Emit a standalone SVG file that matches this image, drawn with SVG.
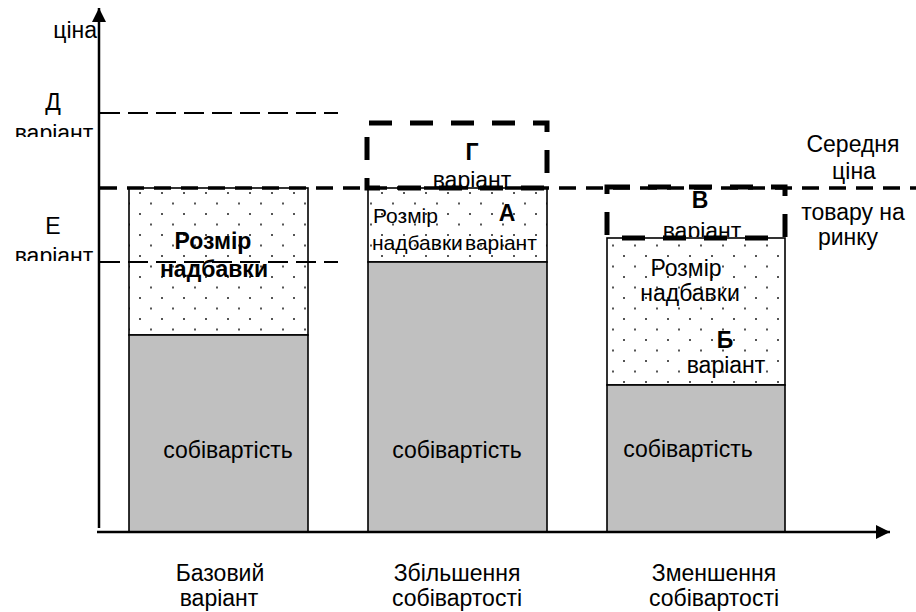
<svg xmlns="http://www.w3.org/2000/svg" width="916" height="612" viewBox="0 0 916 612">
<style>
text{font-family:"Liberation Sans",Arial,sans-serif;font-size:23px;fill:#000}
.c{text-anchor:middle}
.b{font-weight:bold}
.s{font-size:21px}
.bar{stroke:#000;stroke-width:1.6}
.gray{fill:#c0c0c0}
.dot{fill:url(#dots)}
.axis{stroke:#000;stroke-width:2.5;fill:none}
.avg{stroke:#000;stroke-width:3.5;stroke-dasharray:17 10;fill:none}
.lvl{stroke:#000;stroke-width:2;stroke-dasharray:20 8;fill:none}
.box{stroke:#000;stroke-width:5;stroke-dasharray:23 18;fill:none}
</style>
<defs>
<pattern id="dots" patternUnits="userSpaceOnUse" width="22" height="21" x="129" y="188">
<rect width="22" height="21" fill="#fff"/>
<rect x="10" y="4" width="2" height="2" fill="#555"/>
<rect x="21" y="14.5" width="2" height="2" fill="#555"/>
<rect x="-1" y="14.5" width="2" height="2" fill="#555"/>
</pattern>
<marker id="arr" markerWidth="16" markerHeight="16" refX="14" refY="8" orient="auto" markerUnits="userSpaceOnUse">
<path d="M0,1 L14,8 L0,15 Z" fill="#000"/>
</marker>
<clipPath id="clipD"><rect x="0" y="80" width="99" height="57"/></clipPath>
<clipPath id="clipE"><rect x="0" y="200" width="99" height="61"/></clipPath>
<clipPath id="clipG"><rect x="400" y="130" width="140" height="57"/></clipPath>
<clipPath id="clipV"><rect x="640" y="190" width="130" height="47"/></clipPath>
</defs>

<g id="bar-base">
<rect class="bar dot" x="129" y="188" width="179" height="147"/>
<rect class="bar gray" x="129" y="335" width="179" height="197"/>
<text class="c b" x="213" y="249">Розмір</text>
<text class="c b" x="214" y="277">надбавки</text>
<text class="c" x="228" y="458">собівартість</text>
</g>

<g id="bar-increase">
<rect class="bar dot" x="368" y="188" width="179" height="74"/>
<rect class="bar gray" x="368" y="262" width="179" height="270"/>
<text class="s" x="373" y="223">Розмір</text>
<text class="s" x="372" y="250">надбавки</text>
<text class="c b" x="507" y="221">А</text>
<text class="s" x="465" y="250">варіант</text>
<text class="c" x="457" y="458">собівартість</text>
</g>

<g id="bar-decrease">
<rect class="bar dot" x="607" y="238" width="178" height="147"/>
<rect class="bar gray" x="607" y="385" width="178" height="147"/>
<text class="c" x="686" y="276">Розмір</text>
<text class="c" x="690" y="301">надбавки</text>
<text class="c b" x="725" y="348">Б</text>
<text class="c" x="726" y="373">варіант</text>
<text class="c" x="688" y="457">собівартість</text>
</g>

<g id="connectors">
<line class="axis" x1="99" y1="528" x2="99" y2="8" marker-end="url(#arr)"/>
<line class="axis" x1="97" y1="532" x2="890" y2="532" marker-end="url(#arr)"/>
<line class="lvl" x1="100" y1="113" x2="338" y2="113"/>
<line class="lvl" x1="100" y1="262" x2="338" y2="262"/>
<line class="avg" x1="100" y1="188" x2="916" y2="188"/>
</g>

<g id="variant-G">
<rect class="box" x="367" y="123" width="180" height="65" stroke-dashoffset="-2"/>
<text class="c b" x="472" y="160">Г</text>
<text class="c" x="472" y="188" clip-path="url(#clipG)">варіант</text>
</g>

<g id="variant-V">
<rect class="box" x="607" y="187" width="178" height="51"/>
<text class="c b" x="700" y="208">В</text>
<text class="c" x="702" y="239" clip-path="url(#clipV)">варіант</text>
</g>

<g id="axis-labels">
<text x="97" y="38" text-anchor="end">ціна</text>
<text class="c" x="53" y="110">Д</text>
<text class="c" x="54" y="141" clip-path="url(#clipD)">варіант</text>
<text class="c" x="53" y="234">Е</text>
<text class="c" x="54" y="264" clip-path="url(#clipE)">варіант</text>
</g>

<g id="market-price">
<text class="c" x="853" y="152">Середня</text>
<text class="c" x="854" y="179">ціна</text>
<text class="c" x="853" y="220">товару на</text>
<text class="c" x="848" y="245">ринку</text>
</g>

<g id="category-labels">
<text class="c" x="220" y="581">Базовий</text>
<text class="c" x="219" y="606">варіант</text>
<text class="c" x="457" y="581">Збільшення</text>
<text class="c" x="457" y="606">собівартості</text>
<text class="c" x="714" y="581">Зменшення</text>
<text class="c" x="714" y="606">собівартості</text>
</g>
</svg>
